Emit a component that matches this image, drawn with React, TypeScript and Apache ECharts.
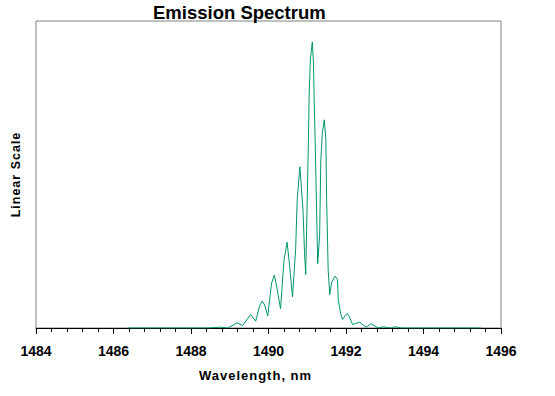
import React, { useEffect, useRef } from "react";
import * as echarts from "echarts";

const wavelengths = [
  1486.37, 1488.39, 1488.77, 1488.95, 1489.19, 1489.33, 1489.54, 1489.67, 1489.77, 1489.84,
  1489.90, 1489.98, 1490.08, 1490.15, 1490.21, 1490.31, 1490.40, 1490.48, 1490.54, 1490.62,
  1490.70, 1490.74, 1490.81, 1490.89, 1490.93, 1490.96, 1491.03, 1491.05, 1491.08, 1491.13,
  1491.16, 1491.18, 1491.21, 1491.27, 1491.32, 1491.35, 1491.39, 1491.44, 1491.48, 1491.50,
  1491.54, 1491.58, 1491.63, 1491.72, 1491.78, 1491.80, 1491.86, 1491.91, 1491.97, 1492.03,
  1492.09, 1492.17, 1492.35, 1492.52, 1492.65, 1492.83, 1492.96, 1493.14, 1493.26, 1493.45,
  1495.48,
];
const intensity = [
  0, 0, 0.8, 0, 5.2, 2.5, 13.5, 6.8, 22, 27,
  23, 12, 45, 53, 42, 19.2, 68, 86, 64, 31.2,
  78.5, 128.5, 161.5, 118.5, 75.5, 53.5, 187, 235.5, 268.5, 286.5,
  266.5, 227, 176.5, 64.5, 93.5, 168.5, 195.5, 208.5, 188.5, 128.5,
  58.5, 33.5, 46, 52, 48.5, 28.5, 15, 8.5, 12, 14.5,
  11, 3.5, 5.8, 0.8, 4.2, 0, 1.2, 0, 1.2, 0,
  0,
];
const xMin = 1484;
const xMax = 1496;
const yMax = 307.5;
const titleText = "Emission Spectrum";
const xName = "Wavelength, nm";
const yName = "Linear Scale";

export default function App() {
  const ref = useRef<HTMLDivElement>(null);
  useEffect(() => {
    if (!ref.current) return;
    document.body.style.margin = "0";
    const chart = echarts.init(ref.current, null, { renderer: "svg" });
    const font = "Liberation Sans, Arial, sans-serif";
    chart.setOption({
      animation: false,
      backgroundColor: "#ffffff",
      graphic: [
        {
          type: "text",
          x: 153,
          y: 3,
          style: {
            text: titleText,
            font: `bold 18.5px ${font}`,
            fill: "#000000",
            align: "left",
            verticalAlign: "top",
          },
        },
      ],
      grid: {
        left: 36,
        right: 54,
        top: 21,
        bottom: 68,
        show: true,
        borderColor: "#808080",
        borderWidth: 1,
      },
      xAxis: {
        type: "value",
        min: xMin,
        max: xMax,
        interval: 2,
        name: xName,
        nameLocation: "middle",
        nameGap: 41,
        nameTextStyle: {
          fontFamily: font,
          fontWeight: "bold",
          fontSize: 13,
          color: "#000000",
          padding: [0, 26, 0, 0],
        },
        axisLine: { show: true, onZero: false, lineStyle: { color: "#000000", width: 1 } },
        axisTick: { show: true, length: 6, lineStyle: { color: "#000000" } },
        minorTick: { show: true, splitNumber: 5, length: 4, lineStyle: { color: "#000000" } },
        axisLabel: {
          margin: 16,
          fontFamily: font,
          fontWeight: "bold",
          fontSize: 14,
          color: "#000000",
          formatter: (v: number) => String(Math.round(v)),
        },
        splitLine: { show: false },
      },
      yAxis: {
        type: "value",
        min: 0,
        max: yMax,
        name: yName,
        nameLocation: "middle",
        nameGap: 14,
        nameRotate: 90,
        nameTextStyle: {
          fontFamily: font,
          fontWeight: "bold",
          fontSize: 12.5,
          color: "#000000",
        },
        axisLine: { show: false },
        axisTick: { show: false },
        axisLabel: { show: false },
        splitLine: { show: false },
      },
      series: [
        {
          type: "line",
          data: wavelengths.map((w, i) => [w, intensity[i]]),
          showSymbol: false,
          lineStyle: { color: "#00966e", width: 1 },
          itemStyle: { color: "#00966e" },
          z: 3,
        },
      ],
    });
    const texts = ref.current.querySelectorAll("text");
    texts.forEach((t) => {
      const c = t.textContent || "";
      if (c === xName || c === yName) {
        (t as SVGTextElement).style.letterSpacing = "1px";
      }
    });
    return () => chart.dispose();
  }, []);
  return <div ref={ref} style={{ width: 555, height: 396 }} />;
}
